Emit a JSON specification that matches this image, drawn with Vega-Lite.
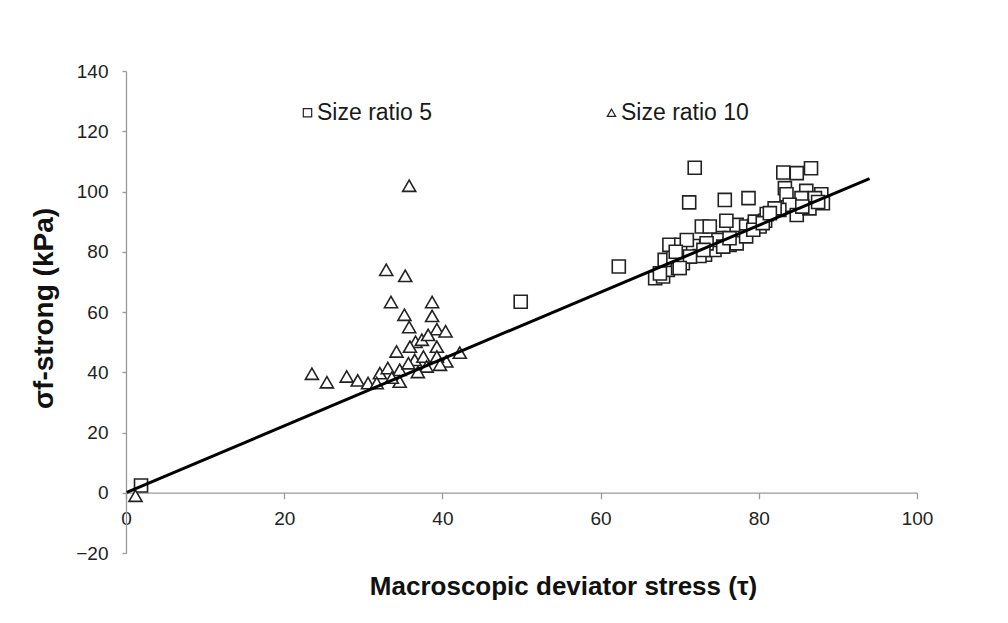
{
  "$schema": "https://vega.github.io/schema/vega-lite/v6.json",
  "autosize": "none",
  "width": 791,
  "height": 482,
  "padding": {"left": 126, "top": 71, "right": 91, "bottom": 70},
  "background": "white",
  "config": {
    "view": {"stroke": null},
    "font": "Liberation Sans"
  },
  "datasets": {
    "pts": [
      {"tau": 1.9, "sigma": 2.4, "series": "Size ratio 5"},
      {"tau": 49.9, "sigma": 63.4, "series": "Size ratio 5"},
      {"tau": 62.3, "sigma": 75.1, "series": "Size ratio 5"},
      {"tau": 66.9, "sigma": 71.2, "series": "Size ratio 5"},
      {"tau": 67.9, "sigma": 71.8, "series": "Size ratio 5"},
      {"tau": 68.5, "sigma": 74.0, "series": "Size ratio 5"},
      {"tau": 69.8, "sigma": 74.6, "series": "Size ratio 5"},
      {"tau": 68.1, "sigma": 77.3, "series": "Size ratio 5"},
      {"tau": 69.2, "sigma": 78.4, "series": "Size ratio 5"},
      {"tau": 70.4, "sigma": 76.2, "series": "Size ratio 5"},
      {"tau": 71.9, "sigma": 79.5, "series": "Size ratio 5"},
      {"tau": 73.2, "sigma": 79.0, "series": "Size ratio 5"},
      {"tau": 74.4, "sigma": 80.6, "series": "Size ratio 5"},
      {"tau": 68.7, "sigma": 82.3, "series": "Size ratio 5"},
      {"tau": 70.2, "sigma": 82.3, "series": "Size ratio 5"},
      {"tau": 71.7, "sigma": 81.9, "series": "Size ratio 5"},
      {"tau": 70.9, "sigma": 83.9, "series": "Size ratio 5"},
      {"tau": 75.1, "sigma": 84.5, "series": "Size ratio 5"},
      {"tau": 76.3, "sigma": 82.3, "series": "Size ratio 5"},
      {"tau": 77.2, "sigma": 82.8, "series": "Size ratio 5"},
      {"tau": 72.8, "sigma": 88.4, "series": "Size ratio 5"},
      {"tau": 73.8, "sigma": 88.4, "series": "Size ratio 5"},
      {"tau": 77.2, "sigma": 88.9, "series": "Size ratio 5"},
      {"tau": 78.4, "sigma": 88.4, "series": "Size ratio 5"},
      {"tau": 79.4, "sigma": 88.6, "series": "Size ratio 5"},
      {"tau": 80.1, "sigma": 88.4, "series": "Size ratio 5"},
      {"tau": 79.5, "sigma": 90.0, "series": "Size ratio 5"},
      {"tau": 80.8, "sigma": 90.3, "series": "Size ratio 5"},
      {"tau": 75.9, "sigma": 90.3, "series": "Size ratio 5"},
      {"tau": 71.2, "sigma": 96.4, "series": "Size ratio 5"},
      {"tau": 71.9, "sigma": 107.9, "series": "Size ratio 5"},
      {"tau": 75.7, "sigma": 97.2, "series": "Size ratio 5"},
      {"tau": 78.7, "sigma": 97.8, "series": "Size ratio 5"},
      {"tau": 83.1, "sigma": 106.3, "series": "Size ratio 5"},
      {"tau": 84.8, "sigma": 106.1, "series": "Size ratio 5"},
      {"tau": 86.6, "sigma": 107.7, "series": "Size ratio 5"},
      {"tau": 83.3, "sigma": 101.1, "series": "Size ratio 5"},
      {"tau": 83.5, "sigma": 99.1, "series": "Size ratio 5"},
      {"tau": 86.0, "sigma": 100.2, "series": "Size ratio 5"},
      {"tau": 87.9, "sigma": 99.1, "series": "Size ratio 5"},
      {"tau": 85.4, "sigma": 97.8, "series": "Size ratio 5"},
      {"tau": 87.1, "sigma": 97.8, "series": "Size ratio 5"},
      {"tau": 88.1, "sigma": 96.1, "series": "Size ratio 5"},
      {"tau": 83.9, "sigma": 95.6, "series": "Size ratio 5"},
      {"tau": 82.6, "sigma": 93.9, "series": "Size ratio 5"},
      {"tau": 84.8, "sigma": 92.2, "series": "Size ratio 5"},
      {"tau": 81.0, "sigma": 92.5, "series": "Size ratio 5"},
      {"tau": 82.0, "sigma": 94.4, "series": "Size ratio 5"},
      {"tau": 86.4, "sigma": 94.4, "series": "Size ratio 5"},
      {"tau": 72.5, "sigma": 78.6, "series": "Size ratio 5"},
      {"tau": 71.3, "sigma": 78.4, "series": "Size ratio 5"},
      {"tau": 74.9, "sigma": 83.9, "series": "Size ratio 5"},
      {"tau": 73.4, "sigma": 82.8, "series": "Size ratio 5"},
      {"tau": 75.5, "sigma": 81.7, "series": "Size ratio 5"},
      {"tau": 78.4, "sigma": 85.1, "series": "Size ratio 5"},
      {"tau": 79.3, "sigma": 87.3, "series": "Size ratio 5"},
      {"tau": 80.5, "sigma": 89.5, "series": "Size ratio 5"},
      {"tau": 81.4, "sigma": 92.8, "series": "Size ratio 5"},
      {"tau": 76.3, "sigma": 84.5, "series": "Size ratio 5"},
      {"tau": 73.0, "sigma": 80.6, "series": "Size ratio 5"},
      {"tau": 70.0, "sigma": 74.6, "series": "Size ratio 5"},
      {"tau": 67.5, "sigma": 72.8, "series": "Size ratio 5"},
      {"tau": 69.5, "sigma": 80.0, "series": "Size ratio 5"},
      {"tau": 85.5, "sigma": 95.0, "series": "Size ratio 5"},
      {"tau": 87.5, "sigma": 96.5, "series": "Size ratio 5"},
      {"tau": 1.2, "sigma": -1.0, "series": "Size ratio 10"},
      {"tau": 35.8, "sigma": 101.9, "series": "Size ratio 10"},
      {"tau": 32.9, "sigma": 74.0, "series": "Size ratio 10"},
      {"tau": 35.3, "sigma": 72.0, "series": "Size ratio 10"},
      {"tau": 33.5, "sigma": 63.3, "series": "Size ratio 10"},
      {"tau": 38.7, "sigma": 63.3, "series": "Size ratio 10"},
      {"tau": 35.2, "sigma": 59.1, "series": "Size ratio 10"},
      {"tau": 38.7, "sigma": 58.7, "series": "Size ratio 10"},
      {"tau": 35.8, "sigma": 55.0, "series": "Size ratio 10"},
      {"tau": 39.3, "sigma": 54.3, "series": "Size ratio 10"},
      {"tau": 40.4, "sigma": 53.6, "series": "Size ratio 10"},
      {"tau": 36.6, "sigma": 50.1, "series": "Size ratio 10"},
      {"tau": 34.2, "sigma": 46.9, "series": "Size ratio 10"},
      {"tau": 42.2, "sigma": 46.5, "series": "Size ratio 10"},
      {"tau": 39.3, "sigma": 48.5, "series": "Size ratio 10"},
      {"tau": 36.5, "sigma": 44.1, "series": "Size ratio 10"},
      {"tau": 40.5, "sigma": 43.6, "series": "Size ratio 10"},
      {"tau": 23.5, "sigma": 39.5, "series": "Size ratio 10"},
      {"tau": 25.4, "sigma": 36.7, "series": "Size ratio 10"},
      {"tau": 27.9, "sigma": 38.6, "series": "Size ratio 10"},
      {"tau": 29.3, "sigma": 37.3, "series": "Size ratio 10"},
      {"tau": 30.6, "sigma": 36.4, "series": "Size ratio 10"},
      {"tau": 32.1, "sigma": 39.7, "series": "Size ratio 10"},
      {"tau": 33.1, "sigma": 41.4, "series": "Size ratio 10"},
      {"tau": 34.6, "sigma": 40.8, "series": "Size ratio 10"},
      {"tau": 34.6, "sigma": 36.9, "series": "Size ratio 10"},
      {"tau": 35.7, "sigma": 43.0, "series": "Size ratio 10"},
      {"tau": 37.6, "sigma": 45.2, "series": "Size ratio 10"},
      {"tau": 38.0, "sigma": 41.9, "series": "Size ratio 10"},
      {"tau": 39.3, "sigma": 45.2, "series": "Size ratio 10"},
      {"tau": 35.9, "sigma": 48.5, "series": "Size ratio 10"},
      {"tau": 37.4, "sigma": 50.8, "series": "Size ratio 10"},
      {"tau": 31.7, "sigma": 36.4, "series": "Size ratio 10"},
      {"tau": 38.2, "sigma": 52.4, "series": "Size ratio 10"},
      {"tau": 36.9, "sigma": 40.1, "series": "Size ratio 10"},
      {"tau": 33.6, "sigma": 38.2, "series": "Size ratio 10"},
      {"tau": 39.7, "sigma": 42.5, "series": "Size ratio 10"}
    ],
    "fit": [
      {"tau": 0.1, "sigma": 0.1},
      {"tau": 94.0, "sigma": 104.3}
    ]
  },
  "encoding": {
    "x": {
      "field": "tau",
      "type": "quantitative",
      "scale": {"domain": [0, 100], "nice": false, "zero": false},
      "axis": {
        "title": "Macroscopic deviator stress (τ)",
        "values": [0, 20, 40, 60, 80, 100],
        "offset": -60.3,
        "grid": false,
        "domainColor": "#999999",
        "domainWidth": 1.3,
        "tickColor": "#999999",
        "tickWidth": 1.3,
        "tickSize": 6,
        "labelPadding": 11,
        "labelFont": "Liberation Sans",
        "labelFontSize": 19,
        "labelColor": "#222222",
        "labelFlush": false,
        "labelBaseline": "top",
        "titleFont": "Liberation Sans",
        "titleFontSize": 26,
        "titleFontWeight": "bold",
        "titleColor": "#111111",
        "titleX": 437,
        "titleY": 94,
        "titleBaseline": "middle",
        "titleAlign": "center",
        "titleAnchor": null
      }
    },
    "y": {
      "field": "sigma",
      "type": "quantitative",
      "scale": {"domain": [-20, 140], "nice": false, "zero": false},
      "axis": {
        "title": "σf-strong  (kPa)",
        "values": [-20, 0, 20, 40, 60, 80, 100, 120, 140],
        "grid": false,
        "domainColor": "#999999",
        "domainWidth": 1.3,
        "tickColor": "#999999",
        "tickWidth": 1.3,
        "tickSize": 4,
        "labelPadding": 14,
        "labelFont": "Liberation Sans",
        "labelFontSize": 19,
        "labelColor": "#222222",
        "labelFlush": false,
        "titleFont": "Liberation Sans",
        "titleFontSize": 28,
        "titleFontWeight": "bold",
        "titleColor": "#111111",
        "titleAngle": -90,
        "titleX": -82,
        "titleY": 237,
        "titleBaseline": "middle",
        "titleAlign": "center",
        "titleAnchor": null
      }
    }
  },
  "layer": [
    {
      "data": {"name": "pts"},
      "mark": {"type": "point", "filled": false, "color": "#222222", "fill": "white", "fillOpacity": 1, "size": 170, "strokeWidth": 1.6, "opacity": 1},
      "encoding": {
        "shape": {
          "field": "series",
          "type": "nominal",
          "scale": {"domain": ["Size ratio 5", "Size ratio 10"], "range": ["square", "triangle-up"]},
          "legend": {
            "title": null,
            "orient": "none",
            "direction": "horizontal",
            "legendX": 170,
            "legendY": 30,
            "padding": 0,
            "columnPadding": 167,
            "symbolSize": 70,
            "symbolStrokeWidth": 1.2,
            "labelFont": "Liberation Sans",
            "labelFontSize": 23,
            "labelColor": "#1a1a1a",
            "labelOffset": -2,
            "labelLimit": 300
          }
        }
      }
    },
    {
      "data": {"name": "fit"},
      "mark": {"type": "line", "color": "#000000", "strokeWidth": 3},
      "encoding": {}
    }
  ]
}
